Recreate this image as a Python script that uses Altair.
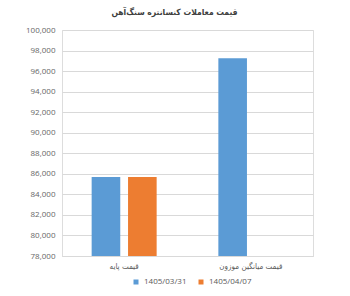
import altair as alt
import pandas as pd

categories = ["قیمت پایه", "قیمت پایه", "قیمت میانگین موزون"]
series = ["1405/03/31", "1405/04/07", "1405/03/31"]
values = [85700, 85700, 97250]

series_order = ["1405/03/31", "1405/04/07"]
category_order = ["قیمت پایه", "قیمت میانگین موزون"]
colors = ["#5B9BD5", "#ED7D31"]
y_ticks = list(range(78000, 100001, 2000))

df = pd.DataFrame({"category": categories, "series": series, "value": values})

chart = alt.Chart(df).mark_bar(clip=True).encode(
    x=alt.X("category:N", sort=category_order,
            scale=alt.Scale(paddingInner=0.487, paddingOuter=0.234),
            axis=alt.Axis(title=None, labelAngle=0, ticks=False, labelPadding=6,
                          labelFontSize=8, labelColor="#595959", domainColor="#d9d9d9",
                          labelFont="DejaVu Sans Condensed")),
    xOffset=alt.XOffset("series:N", sort=series_order,
                        scale=alt.Scale(paddingInner=0.214, paddingOuter=0)),
    y=alt.Y("value:Q", scale=alt.Scale(domain=[78000, 100000], zero=False, nice=False),
            axis=alt.Axis(title=None, values=y_ticks, format=",.0f", ticks=False, domain=False,
                          labelFontSize=8, labelColor="#666666", labelPadding=7,
                          gridColor="#d9d9d9", labelFont="Open Sans")),
    y2=alt.datum(78000),
    color=alt.Color("series:N", sort=series_order,
                    scale=alt.Scale(domain=series_order, range=colors),
                    legend=alt.Legend(title=None, orient="none", direction="horizontal",
                                      legendX=70, legendY=248, symbolType="square",
                                      symbolSize=25, labelFontSize=8, labelColor="#595959",
                                      columnPadding=10, labelFont="Open Sans",
                                      symbolStrokeWidth=0)),
).properties(
    width=251, height=226,
    title=alt.TitleParams("قیمت معاملات کنسانتره سنگ‌آهن", fontSize=8.5, fontWeight="bold",
                          color="#404040", offset=10, dx=-13, font="DejaVu Sans Condensed"),
    autosize=alt.AutoSizeParams(type="none"),
    padding={"left": 62, "top": 30, "right": 37, "bottom": 40},
).configure_view(stroke=None).configure(background="white")

chart.save("out.html", embed_options={"renderer": "svg", "actions": False})
